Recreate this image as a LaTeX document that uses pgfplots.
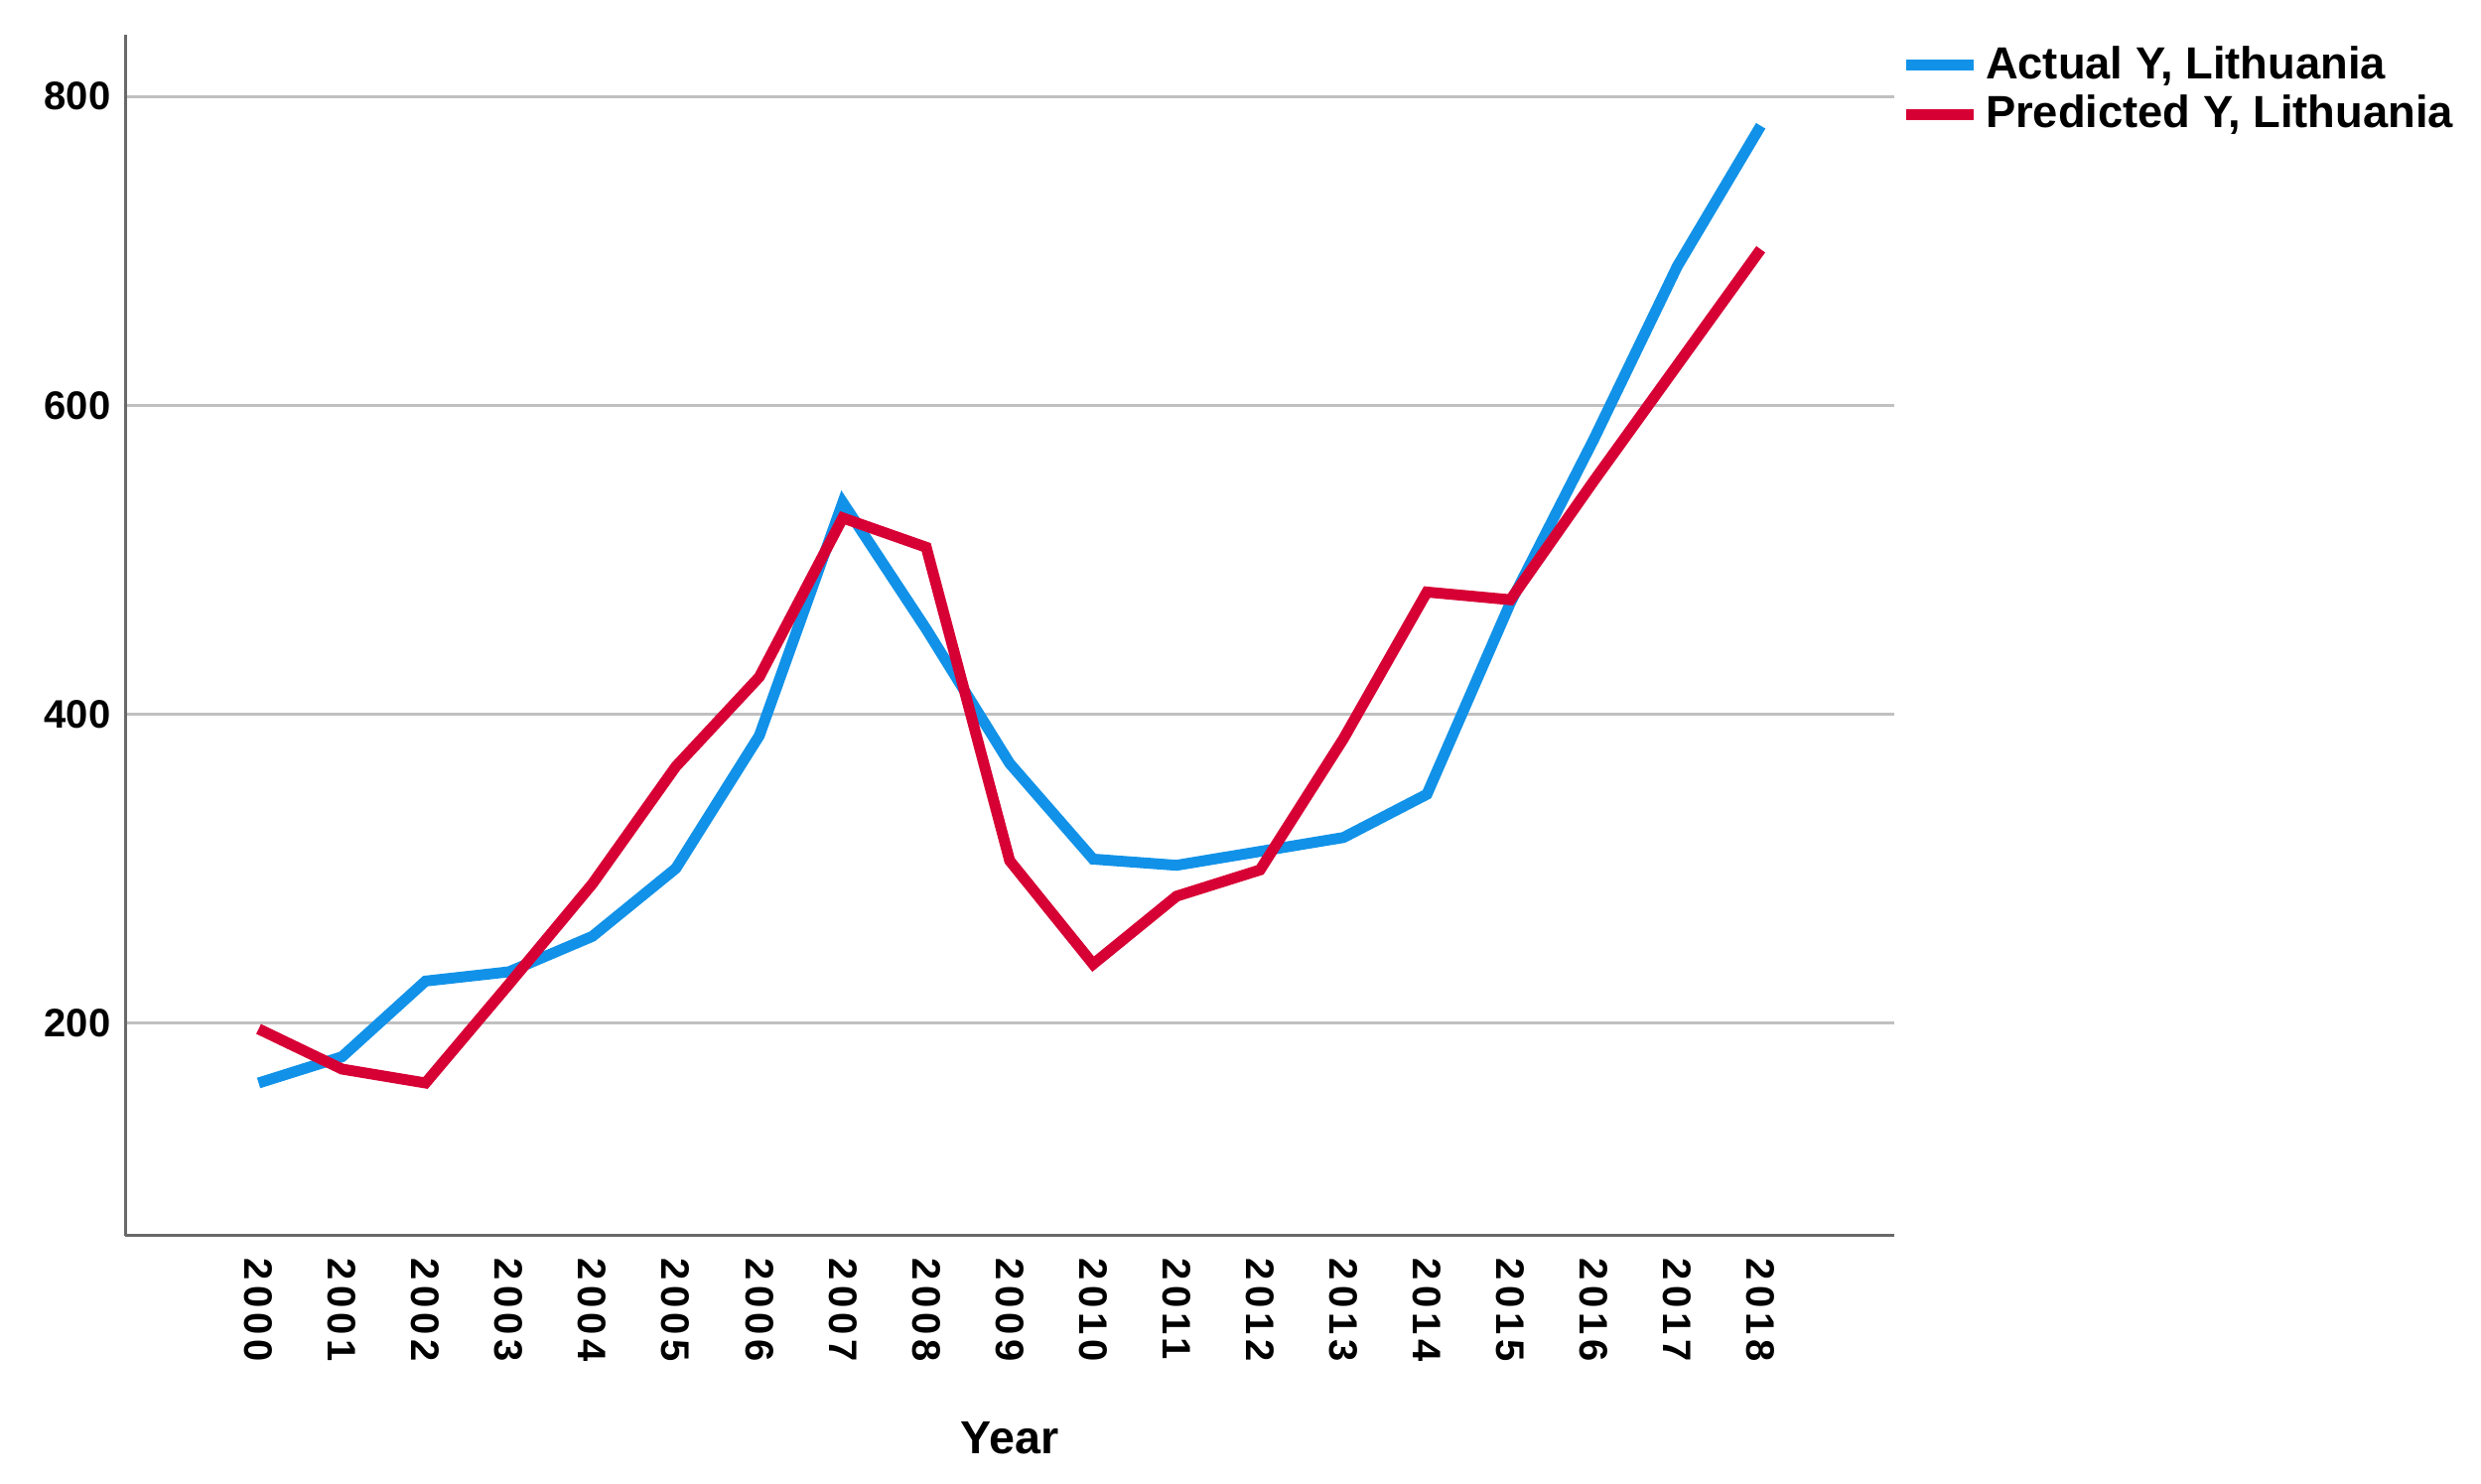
\documentclass[border=0pt]{standalone}
\usepackage{pgfplots}
\pgfplotsset{compat=1.18}
\usepackage{fontspec}
\setmainfont{Liberation Sans}
\newfontfamily\spaced[LetterSpace=13]{Liberation Sans}
\definecolor{actblue}{RGB}{17,146,232}
\definecolor{predred}{RGB}{215,0,53}
\definecolor{gridgray}{RGB}{192,192,192}
\definecolor{axisgray}{RGB}{105,105,105}
\begin{document}
\begin{tikzpicture}[x=1pt,y=1pt]
\useasboundingbox (0,0) rectangle (749.7,448.5);
\begin{axis}[
  at={(37.8pt,75pt)}, anchor=south west,
  width=534.6pt, height=363pt, scale only axis,
  xmin=1998.4, xmax=2019.6, ymin=62, ymax=840,
  axis x line*=bottom, axis y line*=left,
  axis line style={axisgray, line width=0.9pt},
  ytick={200,400,600,800},
  xtick={2000,...,2018},
  ymajorgrids, grid style={gridgray, line width=0.9pt},
  major tick length=0pt,
  /pgf/number format/assume math mode=true,
  /pgf/number format/1000 sep={},
  xticklabel style={font=\spaced\bfseries\fontsize{12}{14}\selectfont, rotate=-90, anchor=west, inner sep=0pt},
  xticklabel shift=6.6pt,
  yticklabel style={font=\bfseries\fontsize{12}{14}\selectfont, anchor=east, inner sep=0pt},
  yticklabel shift=4.2pt,
  xlabel={Year},
  xlabel style={font=\bfseries\fontsize{14}{16}\selectfont, at={(axis description cs:0.5,0)}, anchor=center, yshift=-61.2pt},
  legend style={at={(1,1)}, anchor=north west, draw=none, fill=none,
    font=\bfseries\fontsize{13.6}{15}\selectfont, xshift=1.6pt, yshift=-1.2pt,
    inner sep=0pt, row sep=-0.4pt,
    /tikz/every even column/.append style={column sep=0pt}},
  legend cell align=left,
  legend image code/.code={\draw[#1] (0pt,0pt) -- (20.5pt,0pt);},
  every axis plot/.append style={line width=3.3pt, mark=none},
]
\addplot[actblue] coordinates {
(2000,161) (2001,178) (2002,227) (2003,233) (2004,256) (2005,300) (2006,386)
(2007,537) (2008,455) (2009,368) (2010,306) (2011,302) (2012,311) (2013,320)
(2014,348) (2015,472) (2016,578) (2017,690) (2018,781)};
\addlegendentry{Actual Y, Lithuania}
\addplot[predred] coordinates {
(2000,196) (2001,170) (2002,161) (2003,225) (2004,290) (2005,366) (2006,424)
(2007,527) (2008,508) (2009,305) (2010,238) (2011,282) (2012,299) (2013,384)
(2014,479) (2015,474) (2016,551) (2017,626) (2018,701)};
\addlegendentry{Predicted Y, Lithuania}
\end{axis}
\end{tikzpicture}
\end{document}
